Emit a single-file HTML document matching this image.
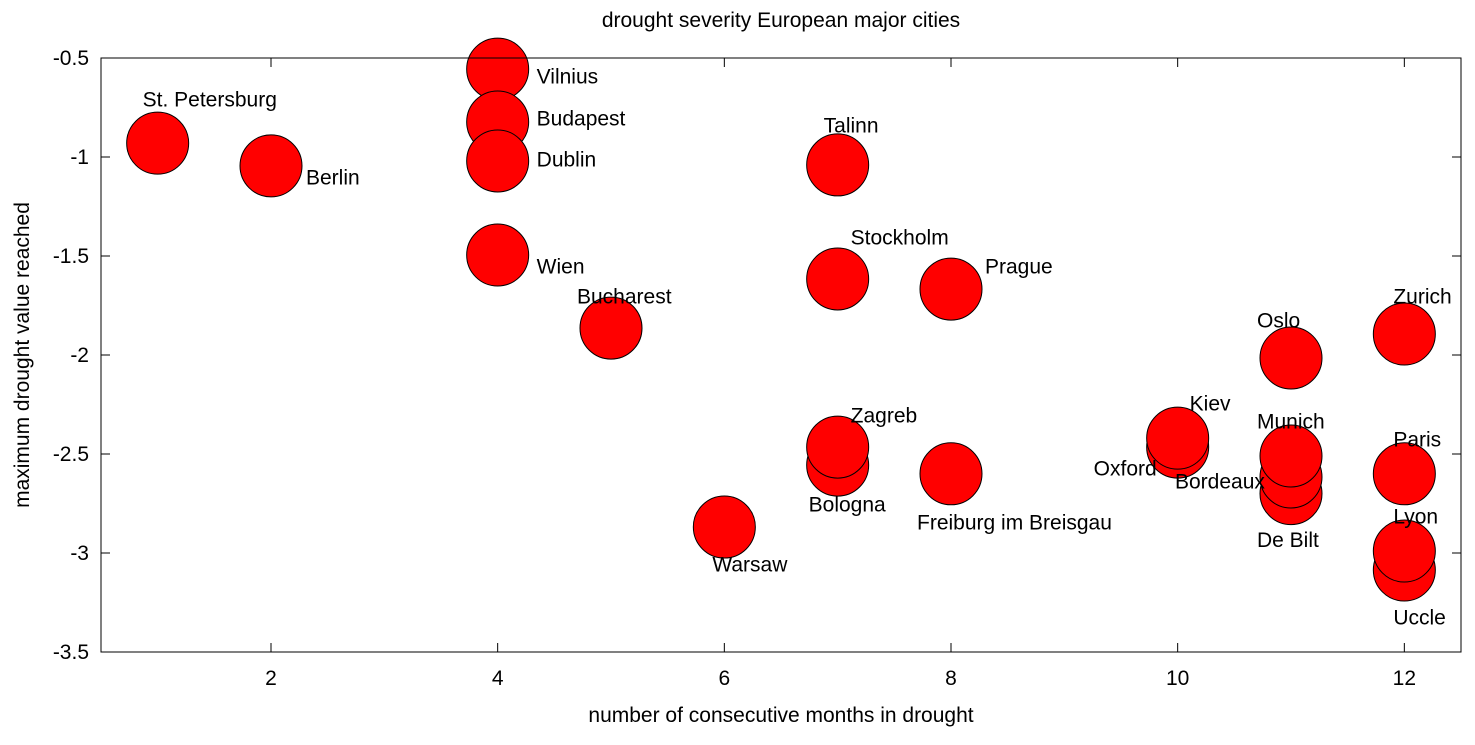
<!DOCTYPE html>
<html><head><meta charset="utf-8"><style>
html,body{margin:0;padding:0;background:#fff;}
svg text{font-family:"Liberation Sans",sans-serif;fill:#000;}
</style></head><body>
<svg id="chart" width="1475" height="740" xmlns="http://www.w3.org/2000/svg">
<text x="781" y="27" font-size="21" text-anchor="middle">drought severity European major cities</text>
<text x="781" y="722" font-size="21" text-anchor="middle">number of consecutive months in drought</text>
<text transform="translate(29,355) rotate(-90)" font-size="21" text-anchor="middle">maximum drought value reached</text>
<g id="axes"></g>
<g id="marks"></g>
<rect x="101" y="58" width="1360" height="594" fill="none" stroke="#000" stroke-width="1"/>
</svg>
<script>
const cities = ["St. Petersburg","Berlin","Vilnius","Budapest","Dublin","Wien","Bucharest","Talinn","Stockholm","Prague","Bologna","Zagreb","Warsaw","Freiburg im Breisgau","Oxford","Kiev","Oslo","De Bilt","Bordeaux","Munich","Zurich","Paris","Uccle","Lyon"];
const months = [1,2,4,4,4,4,5,7,7,8,7,7,6,8,10,10,11,11,11,11,12,12,12,12];
const drought = [-0.93,-1.045,-0.556,-0.823,-1.02,-1.495,-1.864,-1.04,-1.616,-1.667,-2.556,-2.465,-2.869,-2.60,-2.465,-2.42,-2.015,-2.70,-2.616,-2.51,-1.894,-2.60,-3.086,-2.99];
const xTicks = [2,4,6,8,10,12];
const yTicks = [-0.5,-1,-1.5,-2,-2.5,-3,-3.5];
const labelDx = [-15,35,39,39,39,39,-34,-14,13,34,-29,13,-12,-34,-84,12,-34,-34,-116,-34,-11,-11,-11,-11];
const labelDy = [-44,11,7,-4,-2,11,-32,-40,-42,-23,39,-32,37,48,21,-35,-38,46,4,-35,-38,-35,47,-35];

const L=101,R=1461,T=58,B=652,X0=0.5,X1=12.5,Y0=-3.5,Y1=-0.5;
const sx=v=>L+(v-X0)/(X1-X0)*(R-L);
const sy=v=>B-(v-Y0)/(Y1-Y0)*(B-T);
const NS="http://www.w3.org/2000/svg";
function mk(tag,attrs,parent){const e=document.createElementNS(NS,tag);for(const k in attrs)e.setAttribute(k,attrs[k]);parent.appendChild(e);return e;}
const axes=document.getElementById('axes'), marks=document.getElementById('marks');
xTicks.forEach(t=>{
  const x=sx(t);
  const a=mk('line',{x1:x,x2:x,y1:B,y2:B-9,stroke:'#000'},axes);
  
  
  const b=mk('line',{x1:x,x2:x,y1:T,y2:T+9,stroke:'#000'},axes);
  
  
  const tx=mk('text',{x:x,y:B+33,'font-size':21,'text-anchor':'middle'},axes);
  tx.textContent=t;
  
  
});
yTicks.forEach(t=>{
  const y=sy(t);
  const a=mk('line',{x1:L,x2:L+9,y1:y,y2:y,stroke:'#000'},axes);
  
  
  const b=mk('line',{x1:R,x2:R-9,y1:y,y2:y,stroke:'#000'},axes);
  
  
  const tx=mk('text',{x:L-12,y:y+7,'font-size':21,'text-anchor':'end'},axes);
  tx.textContent=t;
  
  
});
cities.forEach((c,i)=>{
  const cx=sx(months[i]), cy=sy(drought[i]);
  const p=mk('circle',{cx:cx,cy:cy,r:31,fill:'#ff0000',stroke:'#000','stroke-width':1},marks);
  
  
});
cities.forEach((c,i)=>{
  const cx=sx(months[i]), cy=sy(drought[i]);
  const t=mk('text',{x:cx+labelDx[i],y:cy+labelDy[i]+7.5,'font-size':21},marks);
  t.textContent=c;
  
  
});
</script>
</body></html>
